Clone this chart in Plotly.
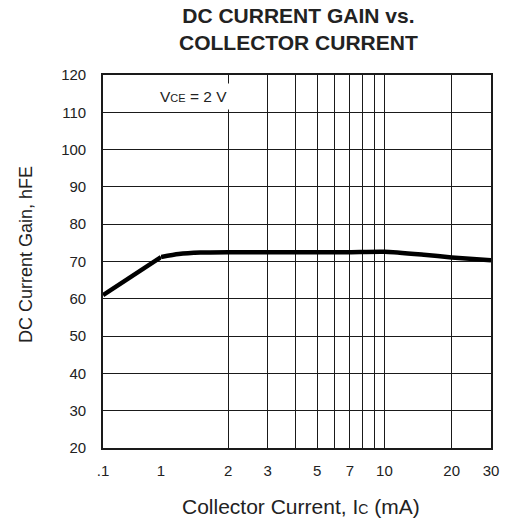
import plotly.graph_objects as go

# Data
ic_low = [0.1, 0.2, 0.3, 0.5, 0.7, 1.0]
hfe_low = [61.0, 64.1, 65.9, 68.1, 69.6, 71.2]
ic_high = [1.0, 1.2, 1.5, 2, 3, 5, 7, 10, 15, 20, 30]
hfe_high = [71.2, 72.0, 72.4, 72.5, 72.5, 72.5, 72.5, 72.6, 71.8, 71.1, 70.3]

x_low_ticks = [0.1, 1]
x_low_labels = [".1", ""]
x_high_ticks = [1, 2, 3, 4, 5, 6, 7, 8, 9, 10, 20, 30]
x_high_labels = ["1", "2", "3", "", "5", "", "7", "", "", "10", "20", "30"]
y_ticks = [20, 30, 40, 50, 60, 70, 80, 90, 100, 110, 120]

FONT = "Liberation Sans, Arial, Helvetica, sans-serif"
GRID = "#1a1a1a"
TXT = "#222222"

fig = go.Figure()
fig.add_trace(go.Scatter(x=ic_low, y=hfe_low, mode="lines", xaxis="x", yaxis="y",
                         line=dict(color="black", width=4.5), showlegend=False,
                         hoverinfo="skip"))
fig.add_trace(go.Scatter(x=ic_high, y=hfe_high, mode="lines", xaxis="x2", yaxis="y2",
                         line=dict(color="black", width=4.5, shape="spline", smoothing=0.6),
                         showlegend=False, hoverinfo="skip"))

# plot area in page pixels: left 103, right 491, top 75, bottom 448
PW, PH = 388.0, 373.0
split = (161 - 103) / PW

def px(xp):
    return (xp - 103) / PW

def py(yp):
    return (448 - yp) / PH

xcommon = dict(showgrid=True, gridcolor=GRID, gridwidth=1.4, showline=True,
               linecolor=GRID, linewidth=1.6, mirror=True, ticks="",
               zeroline=False, tickfont=dict(family=FONT, size=15, color=TXT),
               ticklabelstandoff=8, tickmode="array", automargin=False)
ycommon = dict(range=[20, 120], tickmode="array", tickvals=y_ticks, domain=[0, 1],
               showgrid=True, gridcolor=GRID, gridwidth=1.4, showline=True,
               linecolor=GRID, linewidth=1.6, mirror=False, ticks="", zeroline=False,
               automargin=False, tickfont=dict(family=FONT, size=15, color=TXT))

fig.update_layout(
    width=510, height=523, autosize=False,
    margin=dict(l=103, r=19, t=75, b=75, pad=0),
    plot_bgcolor="white", paper_bgcolor="white",
    xaxis=dict(type="log", range=[-1, 0], domain=[0, split], anchor="y",
               tickvals=x_low_ticks, ticktext=x_low_labels, **xcommon),
    xaxis2=dict(type="log", range=[0, 1.4771212547], domain=[split, 1], anchor="y2",
                tickvals=x_high_ticks, ticktext=x_high_labels, **xcommon),
    yaxis=dict(anchor="x", side="left", ticklabelstandoff=12, **ycommon),
    yaxis2=dict(anchor="x2", side="right", showticklabels=False, **ycommon),
    annotations=[
        dict(text="<b>DC CURRENT GAIN vs.<br>COLLECTOR CURRENT</b>", xref="paper", yref="paper",
             x=px(298), y=py(29), xanchor="center", yanchor="middle", showarrow=False,
             font=dict(family=FONT, size=21, color=TXT)),
        dict(text="V<span style='font-size:11px'>CE</span> = 2 V", xref="paper", yref="paper",
             x=px(193.5), y=py(96), xanchor="center", yanchor="middle",
             showarrow=False, bgcolor="white", borderpad=4,
             font=dict(family=FONT, size=15.5, color=TXT)),
        dict(text="Collector Current, I<span style='font-size:14px'>C</span> (mA)",
             xref="paper", yref="paper", x=px(301), y=py(507),
             xanchor="center", yanchor="middle", showarrow=False,
             font=dict(family=FONT, size=21, color=TXT)),
        dict(text="DC Current Gain, hFE", xref="paper", yref="paper",
             x=px(26), y=py(255), xanchor="center", yanchor="middle",
             textangle=-90, showarrow=False,
             font=dict(family=FONT, size=18, color=TXT)),
    ],
)

fig.write_html("out.html", config={"displayModeBar": False},
               post_script="document.body.style.margin='0px';document.body.style.overflow='hidden';")
